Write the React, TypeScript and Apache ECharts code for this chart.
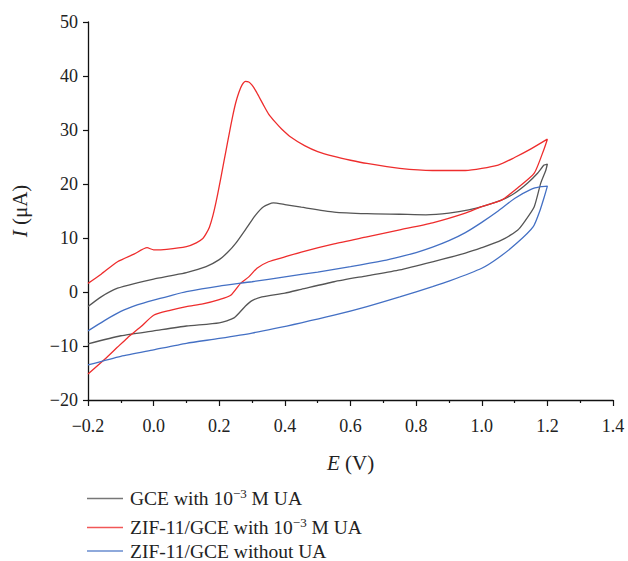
import React, { useEffect, useRef } from "react";
import * as echarts from "echarts";

// GCE with 1e-3 M UA
const gceE = [-0.2, -0.16, -0.11, -0.05, 0.0, 0.05, 0.1, 0.16, 0.2, 0.225, 0.25, 0.285, 0.31, 0.335, 0.365, 0.4, 0.45, 0.55, 0.65, 0.75, 0.83, 0.9, 0.96, 1.02, 1.06, 1.1, 1.14, 1.17, 1.19, 1.2,
  1.195, 1.18, 1.16, 1.13, 1.11, 1.06, 1.0, 0.95, 0.85, 0.75, 0.65, 0.55, 0.45, 0.4, 0.33, 0.3, 0.28, 0.245, 0.2, 0.1, 0.0, -0.1, -0.2];
const gceI = [-2.7, -0.9, 0.7, 1.7, 2.4, 3.0, 3.6, 4.7, 6.0, 7.3, 9.0, 12.0, 14.2, 15.8, 16.5, 16.2, 15.7, 14.8, 14.5, 14.4, 14.3, 14.6, 15.2, 16.2, 17.0, 18.3, 20.2, 22.0, 23.5, 23.7,
  22.5, 20.2, 15.8, 13.0, 11.5, 9.6, 8.2, 7.2, 5.6, 4.1, 3.0, 1.9, 0.5, -0.2, -0.9, -1.6, -2.6, -4.8, -5.7, -6.3, -7.2, -8.1, -9.6];

// ZIF-11/GCE with 1e-3 M UA
const zifUaE = [-0.2, -0.16, -0.11, -0.06, -0.02, 0.0, 0.04, 0.1, 0.13, 0.15, 0.16, 0.17, 0.18, 0.19, 0.2, 0.21, 0.22, 0.23, 0.24, 0.25, 0.26, 0.27, 0.28, 0.29, 0.3, 0.31, 0.32, 0.335, 0.35, 0.37, 0.39, 0.42, 0.46, 0.5, 0.55, 0.6, 0.65, 0.75, 0.85, 0.95, 1.05, 1.1, 1.15, 1.2,
  1.19, 1.16, 1.11, 1.06, 1.0, 0.95, 0.85, 0.75, 0.65, 0.55, 0.45, 0.4, 0.35, 0.315, 0.29, 0.265, 0.235, 0.2, 0.15, 0.1, 0.05, 0.0, -0.04, -0.08, -0.11, -0.15, -0.2];
const zifUaI = [1.6, 3.3, 5.6, 7.0, 8.2, 7.8, 7.9, 8.4, 9.1, 9.9, 10.8, 12.0, 14.0, 16.6, 19.6, 22.8, 26.0, 29.2, 32.3, 35.0, 37.0, 38.4, 39.0, 38.9, 38.3, 37.4, 36.3, 34.6, 33.0, 31.5, 30.2, 28.6, 27.1, 26.0, 25.1, 24.4, 23.8, 22.9, 22.5, 22.5, 23.5, 24.9, 26.5, 28.3,
  26.5, 22.0, 19.3, 17.0, 15.8, 14.6, 12.8, 11.5, 10.2, 8.9, 7.4, 6.5, 5.6, 4.4, 2.8, 1.6, -0.6, -1.4, -2.2, -2.7, -3.4, -4.3, -6.5, -8.5, -10.2, -12.5, -15.2];

// ZIF-11/GCE without UA
const zifE = [-0.2, -0.15, -0.1, -0.05, 0.0, 0.05, 0.1, 0.2, 0.3, 0.4, 0.5, 0.6, 0.7, 0.75, 0.8, 0.85, 0.9, 0.95, 1.0, 1.05, 1.1, 1.15, 1.18, 1.2,
  1.19, 1.178, 1.157, 1.108, 1.05, 1.0, 0.9, 0.85, 0.75, 0.65, 0.55, 0.45, 0.3, 0.2, 0.1, 0.0, -0.1, -0.2];
const zifI = [-7.2, -5.3, -3.6, -2.4, -1.5, -0.7, 0.06, 1.1, 1.9, 2.8, 3.7, 4.7, 5.8, 6.5, 7.3, 8.3, 9.5, 11.0, 12.9, 15.0, 17.3, 19.0, 19.5, 19.6,
  17.5, 15.2, 12.1, 9.1, 6.3, 4.4, 2.0, 1.0, -0.9, -2.7, -4.3, -5.7, -7.6, -8.6, -9.5, -10.7, -11.9, -13.5];

const seriesNames = ["GCE with 10^-3 M UA", "ZIF-11/GCE with 10^-3 M UA", "ZIF-11/GCE without UA"];
const legendLabels = ["GCE with 10{sup|−3} M UA", "ZIF-11/GCE with 10{sup|−3} M UA", "ZIF-11/GCE without UA"];
const colors = ["#555555", "#ee2d2d", "#4470c4"];

const xMin = -0.2, xMax = 1.4, xStep = 0.2;
const yMin = -20, yMax = 50, yStep = 10;

const FONT = "'Liberation Serif', 'DejaVu Serif', serif";

function pairs(e: number[], i: number[]) {
  return e.map((v, k) => [v, i[k]]);
}

const fmt = (v: number, d: number) => v.toFixed(d).replace("-", "−");

export default function App() {
  const ref = useRef<HTMLDivElement>(null);
  useEffect(() => {
    document.body.style.margin = "0";
    if (!ref.current) return;
    const chart = echarts.init(ref.current, undefined, { renderer: "svg" });
    const datas = [pairs(gceE, gceI), pairs(zifUaE, zifUaI), pairs(zifE, zifI)];
    const legendTops = [487, 516, 541];
    chart.setOption({
      animation: false,
      backgroundColor: "#ffffff",
      color: colors,
      grid: { left: 88, right: 15, top: 22, bottom: 161, containLabel: false },
      legend: seriesNames.map((n, k) => ({
        orient: "vertical",
        left: 87,
        top: legendTops[k],
        padding: 0,
        itemWidth: 36,
        itemHeight: 1.3,
        icon: "rect",
        data: [{ name: n, itemStyle: { color: colors[k], opacity: 0.8 } }],
        formatter: (name: string) => legendLabels[seriesNames.indexOf(name)],
        textStyle: {
          fontFamily: FONT,
          fontSize: 19.5,
          color: "#222",
          lineHeight: 20,
          padding: [0, 0, 0, 2],
          rich: {
            sup: { fontFamily: FONT, fontSize: 13, color: "#222", lineHeight: 10, padding: [0, 0, 10, 0] },
          },
        },
      })),
      xAxis: {
        type: "value",
        min: xMin,
        max: xMax,
        interval: xStep,
        name: "{i|E} (V)",
        nameLocation: "middle",
        nameGap: 52,
        nameTextStyle: {
          fontFamily: FONT, fontSize: 21, color: "#222",
          rich: { i: { fontFamily: FONT, fontSize: 21, fontStyle: "italic", color: "#222" } },
        },
        axisLine: { show: true, onZero: false, lineStyle: { color: "#111", width: 1.3 } },
        axisTick: { show: true, inside: false, length: 6, lineStyle: { color: "#111", width: 1.2 } },
        minorTick: { show: true, splitNumber: 2, length: 3, lineStyle: { color: "#111", width: 1.2 } },
        axisLabel: { fontFamily: FONT, fontSize: 18, color: "#222", margin: 17, formatter: (v: number) => fmt(v, 1) },
        splitLine: { show: false },
      },
      yAxis: {
        type: "value",
        min: yMin,
        max: yMax,
        interval: yStep,
        name: "{i|I} (μA)",
        nameLocation: "middle",
        nameGap: 58,
        nameTextStyle: {
          fontFamily: FONT, fontSize: 21, color: "#222",
          rich: { i: { fontFamily: FONT, fontSize: 21, fontStyle: "italic", color: "#222" } },
        },
        axisLine: { show: true, onZero: false, lineStyle: { color: "#111", width: 1.3 } },
        axisTick: { show: true, inside: false, length: 5, lineStyle: { color: "#111", width: 1.2 } },
        axisLabel: { fontFamily: FONT, fontSize: 18, color: "#222", margin: 10, formatter: (v: number) => fmt(v, 0) },
        splitLine: { show: false },
      },
      series: seriesNames.map((n, k) => ({
        name: n,
        type: "line",
        data: datas[k],
        showSymbol: false,
        symbol: "none",
        smooth: 0.2,
        clip: true,
        color: colors[k],
        lineStyle: { color: colors[k], width: 1.3 },
        itemStyle: { color: colors[k] },
      })),
    });
    return () => chart.dispose();
  }, []);
  return <div ref={ref} style={{ width: 628, height: 561 }} />;
}
